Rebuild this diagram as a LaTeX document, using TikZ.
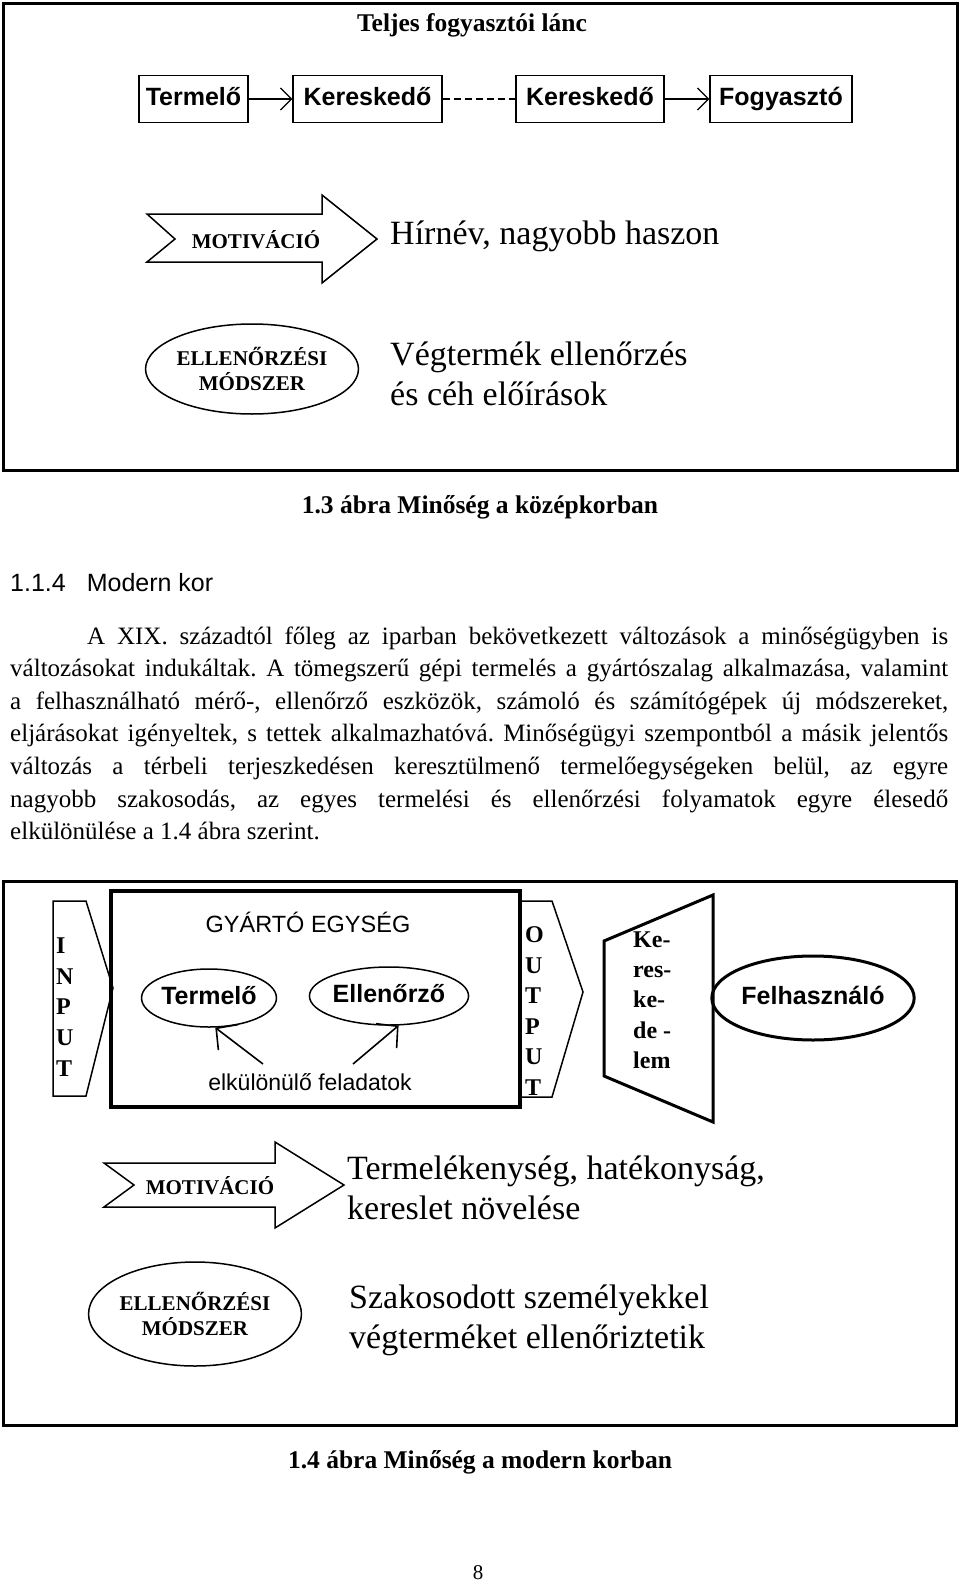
\documentclass[tikz,border=0pt]{standalone}
\usepackage{fontspec}
\setmainfont{Liberation Serif}
\setsansfont{Liberation Sans}
\usetikzlibrary{arrows.meta, positioning, shapes.geometric}
\frenchspacing

\begin{document}
\begin{tikzpicture}[
    x=1pt, y=-1pt,
    frame/.style={draw, line width=3pt},
    chainbox/.style={draw, line width=1.3pt, minimum height=47pt, inner sep=0pt, text height=18pt, text depth=5pt, font=\fontsize{25}{30}\selectfont\sffamily\bfseries},
    link/.style={line width=1.3pt, -{Straight Barb[length=11pt, width=22pt, line width=1.3pt]}},
    tasklink/.style={line width=1.6pt, -{Straight Barb[length=15pt, width=32pt, line width=1.6pt]}},
    motshape/.style={draw, line width=1.5pt, line join=miter},
    motlbl/.style={inner sep=0pt, font=\fontsize{21}{25}\selectfont\bfseries},
    method/.style={ellipse, draw, line width=1.5pt, inner sep=0pt, align=center, font=\fontsize{21}{25}\selectfont\bfseries},
    bigtxt/.style={anchor=west, inner sep=0pt, align=left, font=\fontsize{34}{40}\selectfont},
    caption/.style={inner sep=0pt, font=\fontsize{25.5}{30}\selectfont\bfseries},
    role/.style={ellipse, draw, line width=1.5pt, inner sep=0pt, text height=18pt, text depth=5pt, font=\fontsize{25}{30}\selectfont\sffamily\bfseries},
    letters/.style={anchor=west, inner sep=0pt, align=left, font=\fontsize{24}{30.6}\selectfont\bfseries}
  ]
  \useasboundingbox (0,0) rectangle (960,1584);

  % 1.3 abra
  \draw[frame] (3,4) rectangle (957,470);
  \node[caption] (chain) at (472,25) {Teljes fogyasztói lánc};

  \node[chainbox, minimum width=109pt] (t1) at (193.5,99) {Termelő};
  \node[chainbox, minimum width=149pt] (k1) at (367.5,99) {Kereskedő};
  \node[chainbox, minimum width=148pt] (k2) at (590,99) {Kereskedő};
  \node[chainbox, minimum width=142pt] (fogy) at (781,99) {Fogyasztó};
  \draw[link] (t1) -- (k1);
  \draw[line width=1.3pt, dash pattern=on 7pt off 4pt] (k1) -- (k2);
  \draw[link] (k2) -- (fogy);

  \draw[motshape] (147,214) -- (322,214) -- (322,195) -- (377,239) -- (322,283)
    -- (322,262) -- (147,262) -- (175,239) -- cycle;
  \node[motlbl] (mot1) at (256,240) {MOTIVÁCIÓ};
  \node[bigtxt] (hir) at (390,236) {Hírnév, nagyobb haszon};

  \node[method, minimum width=204pt, minimum height=90pt] (ell1) at (252,369) {ELLENŐRZÉSI\\MÓDSZER};
  \node[bigtxt] (vegt) at (390,374) {Végtermék ellenőrzés\\és céh előírások};

  \node[caption] (cap1) at (480,507) {1.3 ábra Minőség a középkorban};

  % szoveg
  \node[anchor=west, inner sep=0pt, font=\fontsize{25}{30}\selectfont\sffamily] (head) at (10,583) {1.1.4\hspace{21pt}Modern kor};
  \node[anchor=base west, inner sep=0pt] (para) at (10,644) {\parbox[t]{938pt}{\fontsize{25}{32.6}\selectfont
    \hspace*{77pt}A XIX. századtól főleg az iparban bekövetkezett változások a minőségügyben is\linebreak
    változásokat indukáltak. A tömegszerű gépi termelés a gyártószalag alkalmazása, valamint\linebreak
    a felhasználható mérő-, ellenőrző eszközök, számoló és számítógépek új módszereket,\linebreak
    eljárásokat igényeltek, s tettek alkalmazhatóvá. Minőségügyi szempontból a másik jelentős\linebreak
    változás a térbeli terjeszkedésen keresztülmenő termelőegységeken belül, az egyre\linebreak
    nagyobb szakosodás, az egyes termelési és ellenőrzési folyamatok egyre élesedő\linebreak
    elkülönülése a 1.4 ábra szerint.}};

  % 1.4 abra
  \draw[frame] (3,881) rectangle (956,1425);
  \draw[line width=1.5pt] (53,901) -- (86,901) -- (113,988) -- (86,1096) -- (53,1096) -- cycle;
  \node[letters] (inp) at (56,1007) {I\\N\\P\\U\\T};

  \draw[line width=1.5pt] (521,901) -- (552,901) -- (583,992) -- (552,1097) -- (521,1097);
  \node[letters] (outp) at (525,1011) {O\\U\\T\\P\\U\\T};

  \node[draw, line width=4pt, minimum width=409pt, minimum height=216pt] (unit) at (315.5,999) {};
  \node[inner sep=0pt, font=\fontsize{23.5}{28}\selectfont\sffamily] (unitlbl) at (308,922) {GYÁRTÓ EGYSÉG};
  \node[role, minimum width=128pt, minimum height=58pt] (prod) at (209,998) {Termelő};
  \node[role, minimum width=132pt, minimum height=58pt] (ctrl) at (389,996) {Ellenőrző};
  \node[inner sep=0pt, font=\fontsize{23}{28}\selectfont\sffamily] (tasks) at (310,1082) {elkülönülő feladatok};
  \coordinate (tp) at (263,1064);
  \coordinate (tc) at (353,1064);
  \draw[tasklink] (tp) -- (prod.-78);
  \draw[tasklink] (tc) -- (ctrl.-72);

  \draw[line width=3pt, line join=miter] (604,941) -- (713,895) -- (713,1122) -- (604,1076) -- cycle;
  \node[letters, font=\fontsize{24}{30.3}\selectfont\bfseries] (trade) at (633,1000) {Ke-\\res-\\ke-\\de -\\lem};

  \node[role, line width=3pt, minimum width=180pt, minimum height=84pt] (user) at (813,998) {Felhasználó};

  \draw[motshape] (104,1163) -- (275,1163) -- (275,1142) -- (344,1185) -- (275,1228)
    -- (275,1207) -- (104,1207) -- (134,1185) -- cycle;
  \node[motlbl] (mot2) at (210,1186) {MOTIVÁCIÓ};
  \node[bigtxt] (prodtxt) at (347,1188) {Termelékenység, hatékonyság,\\kereslet növelése};

  \node[method, minimum width=188pt, minimum height=104pt] (ell2) at (195,1314) {ELLENŐRZÉSI\\MÓDSZER};
  \node[bigtxt] (spec) at (349,1320) {Szakosodott személyekkel\\végterméket ellenőriztetik};

  \node[caption] (cap2) at (480,1462) {1.4 ábra Minőség a modern korban};
  \node[inner sep=0pt, font=\fontsize{21}{25}\selectfont] (pnum) at (478,1573) {8};

\end{tikzpicture}
\end{document}
